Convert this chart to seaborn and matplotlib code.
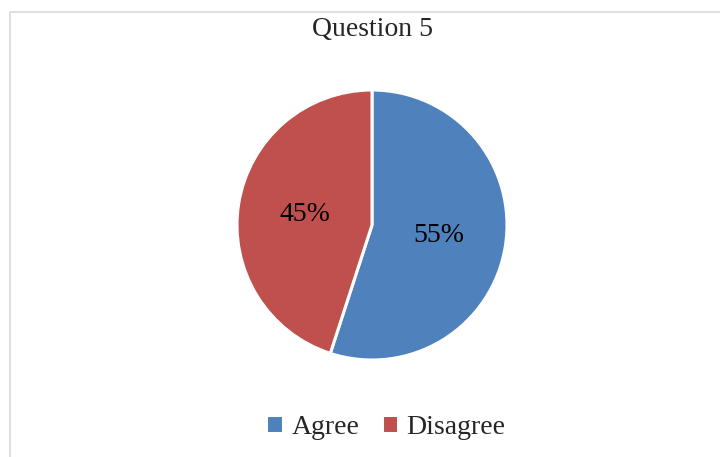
import matplotlib.pyplot as plt
import seaborn as sns
from matplotlib.patches import Rectangle

# data
labels = ["Agree", "Disagree"]
values = [55, 45]
colors = ["#4F81BD", "#C0504D"]
title = "Question 5"

sns.set_theme(style="white")
plt.rcParams['font.family'] = ['Liberation Serif', 'DejaVu Serif']

fig = plt.figure(figsize=(7.2, 4.57), dpi=100)

# chart border (light grey frame, cut at right/bottom)
fig.patches.append(Rectangle((10 / 720, -0.01), 1.0, (457 - 12) / 457 + 0.01,
                             transform=fig.transFigure, fill=False,
                             edgecolor="#D9D9D9", linewidth=1.2))

# pie axes: center (372,225) px, radius 135 px
cx, cy, r = 372, 225, 135
ax = fig.add_axes([(cx - r) / 720, (457 - cy - r) / 457, 2 * r / 720, 2 * r / 457])
wedges, texts, autotexts = ax.pie(values, colors=colors, startangle=90, counterclock=False,
                                  autopct="%1.0f%%", pctdistance=0.5,
                                  wedgeprops=dict(edgecolor="white", linewidth=2.2),
                                  textprops=dict(fontsize=20, color="black"))
ax.set_xlim(-1.0, 1.0)
ax.set_ylim(-1.0, 1.0)
ax.set_aspect("equal")
ax.axis("off")

fig.text(cx / 720, 1 - 29 / 457, title, ha="center", va="center", fontsize=20)

fig.legend(wedges, labels, loc="center", bbox_to_anchor=(386 / 720, 1 - 427 / 457),
           ncol=2, frameon=False, fontsize=20, handlelength=0.6, handleheight=0.6,
           handletextpad=0.3, columnspacing=0.8)

fig.savefig("out.png", dpi=100)
